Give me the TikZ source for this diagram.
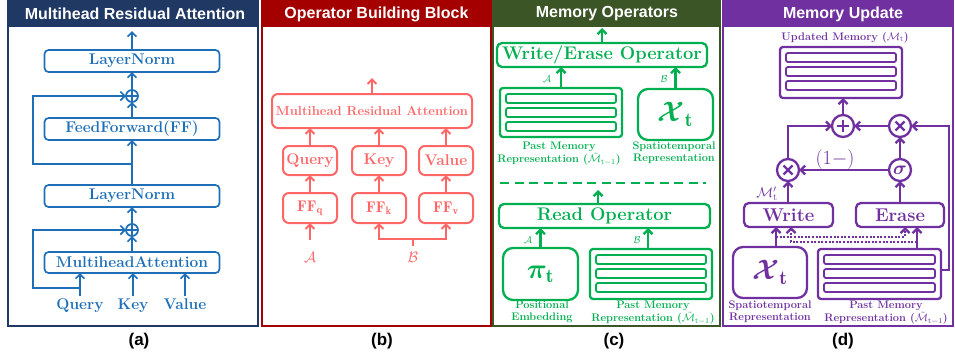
\RequirePackage{fix-cm}
\documentclass[tikz,border=0pt]{standalone}
\usepackage{amsmath,bm}
\usepackage{fontspec}
\newfontfamily\arialfont{Liberation Sans}
\usetikzlibrary{arrows.meta,calc}
\definecolor{navy}{HTML}{1F3864}
\definecolor{cA}{HTML}{1E6FB8}
\definecolor{dred}{HTML}{A50000}
\definecolor{cB}{HTML}{FF6666}
\definecolor{dgreen}{HTML}{3B5526}
\definecolor{cC}{HTML}{00B050}
\definecolor{cD}{HTML}{7030A0}
\newcommand\mybars[2]{\foreach \yy in {6,20,34}{\draw[draw=#2, line width=1.8pt, rounded corners=2pt] ($(#1.north west)+(6,\yy)$) rectangle ($(#1.north east)+(-6,\yy+9)$);}}
\tikzset{
 every node/.style={inner sep=0pt, outer sep=0pt},
 ttl/.style={text=white, font=\arialfont\bfseries\fontsize{16}{16}\selectfont},
 captxt/.style={text=black, font=\arialfont\bfseries\fontsize{17}{17}\selectfont},
 tipA/.style={-{Straight Barb[length=4.5pt,width=9pt]}},
 aln/.style={draw=cA, line width=1.7pt},
 abox/.style={aln, rounded corners=4pt, text=cA, font=\bfseries\fontsize{15.5}{15.5}\selectfont, minimum width=175pt, minimum height=22pt},
 alab/.style={text=cA, font=\bfseries\fontsize{15.5}{15.5}\selectfont},
 aarr/.style={cA, line width=1.7pt, tipA},
 aplus/.style={aln, circle, minimum size=12pt, path picture={\draw[cA, line width=1.3pt] (path picture bounding box.north) -- (path picture bounding box.south) (path picture bounding box.west) -- (path picture bounding box.east);}},
 bbox/.style={draw=cB, line width=2pt, rounded corners=6pt, text=cB, font=\bfseries\fontsize{15.5}{15.5}\selectfont, minimum width=54pt, minimum height=29pt},
 barr/.style={cB, line width=2pt, tipA},
 blab/.style={text=cB, font=\fontsize{15}{15}\selectfont},
 cbox/.style={draw=cC, line width=2.3pt, rounded corners=5pt, text=cC, font=\bfseries\fontsize{18.3}{18.3}\selectfont},
 carr/.style={cC, line width=2.3pt, tipA},
 clab/.style={text=cC, font=\bfseries\fontsize{11}{12}\selectfont, align=center},
 csm/.style={text=cC, font=\fontsize{10}{10}\selectfont},
 dbox/.style={draw=cD, line width=2.3pt, rounded corners=5pt, text=cD, font=\bfseries\fontsize{18.5}{18.5}\selectfont},
 darr/.style={cD, line width=2.3pt, tipA},
 dlab/.style={text=cD, font=\bfseries\fontsize{11}{12}\selectfont, align=center},
 dcirc/.style={draw=cD, line width=2.3pt, circle, minimum size=22pt},
 dplus/.style={dcirc, path picture={\draw[cD, line width=2.3pt] ($(path picture bounding box.center)+(-6pt,0pt)$) -- ($(path picture bounding box.center)+(6pt,0pt)$) ($(path picture bounding box.center)+(0pt,-6pt)$) -- ($(path picture bounding box.center)+(0pt,6pt)$);}},
 dtimes/.style={dcirc, path picture={\draw[cD, line width=2.3pt] ($(path picture bounding box.center)+(-4.5pt,-4.5pt)$) -- ($(path picture bounding box.center)+(4.5pt,4.5pt)$) ($(path picture bounding box.center)+(-4.5pt,4.5pt)$) -- ($(path picture bounding box.center)+(4.5pt,-4.5pt)$);}},
 dotline/.style={dash pattern=on 2pt off 1.6pt},
}
\begin{document}
\begin{tikzpicture}[x=1pt,y=-1pt]
\useasboundingbox (0,0) rectangle (955,360);
\fill[white] (0,0) rectangle (955,360);
% ---------- panel frames ----------
\draw[navy, line width=2pt] (8,1) rectangle (258,326);
\fill[navy] (7,0) rectangle (259,27);
\node[ttl] (ta) at (135,14) {Multihead Residual Attention};
\draw[dred, line width=2pt] (262,1) rectangle (491,326);
\fill[dred] (261,0) rectangle (492,27);
\node[ttl] (tb) at (376.5,14) {Operator Building Block};
\draw[dgreen, line width=2pt] (493,1) rectangle (720,326);
\fill[dgreen] (492,0) rectangle (721,27);
\node[ttl] (tc) at (607,14) {Memory Operators};
\draw[cD, line width=2pt] (723,1) rectangle (953,326);
\fill[cD] (722,0) rectangle (954,27);
\node[ttl] (td) at (843,14) {Memory Update};
\node[captxt] (capa) at (139,341) {(a)};
\node[captxt] (capb) at (382,341) {(b)};
\node[captxt] (capc) at (614,341) {(c)};
\node[captxt] (capd) at (843,341) {(d)};
% ---------- panel (a) ----------
\node[abox] (ln1) at (132,61) {LayerNorm};
\coordinate (aout) at (132,31);
\draw[aarr] (ln1.north) -- (aout);
\node[aplus] (p1) at (132,96) {};
\draw[aarr] (p1.north) -- (ln1.south);
\node[abox] (ff) at (132,129) {FeedForward(FF)};
\draw[aarr] (ff.north) -- (p1.south);
\node[abox] (ln2) at (132,196) {LayerNorm};
\draw[aarr] (ln2.north) -- (ff.south);
\coordinate (r1) at (132,164);
\draw[aarr] (r1) -- (33,164) |- (p1.west);
\node[aplus] (p2) at (132,230) {};
\draw[aarr] (p2.north) -- (ln2.south);
\node[abox, minimum height=21pt] (mha) at (132,262.5) {MultiheadAttention};
\draw[aarr] (mha.north) -- (p2.south);
\node[alab, anchor=base] (q) at (80,309) {Query};
\node[alab, anchor=base] (k) at (133,309) {Key};
\node[alab, anchor=base] (v) at (185,309) {Value};
\draw[aarr] ([yshift=2pt]q.north) -- (q.north |- mha.south);
\draw[aarr] ([yshift=2pt]k.north) -- (k.north |- mha.south);
\draw[aarr] ([yshift=2pt]v.north) -- (v.north |- mha.south);
\draw[aarr] (q.north |- 0,288) -- (33,288) |- (p2.west);
% ---------- panel (b) ----------
\node[bbox, minimum width=200pt, minimum height=34pt, font=\bfseries\fontsize{13}{13}\selectfont] (mra) at (372,111) {Multihead Residual Attention};
\coordinate (bout) at (372,78);
\draw[barr] (mra.north) -- (bout);
\node[bbox] (bq) at (310,160.5) {Query};
\node[bbox] (bk) at (379,160.5) {Key};
\node[bbox] (bv) at (446,160.5) {Value};
\draw[barr] (bq.north) -- (bq.north |- mra.south);
\draw[barr] (bk.north) -- (bk.north |- mra.south);
\draw[barr] (bv.north) -- (bv.north |- mra.south);
\node[bbox, minimum height=30pt] (fq) at (310,208) {$\mathbf{FF_q}$};
\node[bbox, minimum height=30pt] (fk) at (379,208) {$\mathbf{FF_k}$};
\node[bbox, minimum height=30pt] (fv) at (446,208) {$\mathbf{FF_v}$};
\draw[barr] (fq.north) -- (bq.south);
\draw[barr] (fk.north) -- (bk.south);
\draw[barr] (fv.north) -- (bv.south);
\coordinate (ain) at (310,240);
\draw[barr] (ain) -- (fq.south);
\node[blab] (la) at (310,257) {$\mathcal{A}$};
\coordinate (bj) at (413,239);
\draw[barr] (bj) -| (fk.south);
\draw[barr] (bj) -| (fv.south);
\draw[cB, line width=2pt] (bj) -- (413,246);
\node[blab] (lb) at (413,257) {$\mathcal{B}$};
% ---------- panel (c) ----------
\node[cbox, minimum width=210pt, minimum height=24pt] (weo) at (602,55) {Write/Erase Operator};
\coordinate (cout) at (602,28);
\draw[carr] (weo.north) -- (cout);
\node[cbox, minimum width=122pt, minimum height=49pt, rounded corners=3pt] (cm1) at (561,112.5) {};
\mybars{cm1}{cC}
\node[cbox, minimum width=75pt, minimum height=51pt, rounded corners=10pt, font=\fontsize{28}{28}\selectfont] (cx) at (675.5,114.5) {$\boldsymbol{\mathcal{X}}_{\mathbf{t}}$};
\draw[carr] (cm1.north) -- (cm1.north |- weo.south);
\draw[carr] (cx.north) -- (cx.north |- weo.south);
\node[csm] (cla) at (547,79) {$\mathcal{A}$};
\node[csm] (clb) at (664,79) {$\mathcal{B}$};
\node[clab, anchor=north] (cl1) at (559,142) {Past Memory\\Representation ($\tilde{\mathcal{M}}_{\mathrm{t-1}}$)};
\node[clab, anchor=north] (cl2) at (674,142) {Spatiotemporal\\Representation};
\draw[cC, line width=2.3pt, dash pattern=on 9pt off 5.5pt] (500,183) -- (706,183);
\node[cbox, minimum width=211pt, minimum height=24pt] (ro) at (604.5,216) {Read Operator};
\coordinate (rout) at (598,190);
\draw[carr] (rout |- ro.north) -- (rout);
\node[cbox, minimum width=75pt, minimum height=52pt, rounded corners=10pt, font=\fontsize{28}{28}\selectfont] (pi) at (540.5,274) {$\boldsymbol{\pi}_{\mathbf{t}}$};
\node[cbox, minimum width=122pt, minimum height=50pt, rounded corners=3pt] (cm2) at (651,274) {};
\mybars{cm2}{cC}
\draw[carr] (pi.north) -- (pi.north |- ro.south);
\draw[carr] (648,0 |- cm2.north) -- (648,0 |- ro.south);
\node[csm] (cla2) at (528,240) {$\mathcal{A}$};
\node[csm] (clb2) at (637,240) {$\mathcal{B}$};
\node[clab, anchor=north] (cl3) at (542,301) {Positional\\Embedding};
\node[clab, anchor=north] (cl4) at (653,301) {Past Memory\\Representation ($\tilde{\mathcal{M}}_{\mathrm{t-1}}$)};
% ---------- panel (d) ----------
\node[dlab, anchor=north] (um) at (845,32) {Updated Memory ($\mathcal{M}_{\mathrm{t}}$)};
\node[dbox, minimum width=122pt, minimum height=51pt, rounded corners=3pt] (m3) at (841,72.5) {};
\mybars{m3}{cD}
\node[dplus] (pl) at (843,126) {};
\node[dtimes] (t1) at (900,126) {};
\node[dtimes] (t2) at (788,170) {};
\node[dcirc, text=cD, font=\fontsize{19}{19}\selectfont] (sg) at (900,170) {$\boldsymbol{\sigma}$};
\draw[darr] (pl.north) -- (pl.north |- m3.south);
\draw[darr] (t1.west) -- (pl.east);
\draw[darr] (t2.north) |- (pl.west);
\draw[darr] (sg.north) -- (t1.south);
\draw[darr] (sg.west) -- (t2.east);
\node[text=cD, font=\fontsize{20}{20}\selectfont] (om) at (835,159) {$(1-)$};
\node[dbox, minimum width=89pt, minimum height=24pt] (wr) at (788.5,215) {Write};
\node[dbox, minimum width=88pt, minimum height=24pt] (er) at (900,215) {Erase};
\draw[darr] (wr.north -| t2) -- (t2.south);
\draw[darr] (er.north -| sg) -- (sg.south);
\node[text=cD, font=\fontsize{14}{14}\selectfont] (mp) at (767,194) {$\mathcal{M}'_{\mathrm{t}}$};
\node[dbox, minimum width=74pt, minimum height=51pt, rounded corners=10pt, font=\fontsize{28}{28}\selectfont] (x2) at (770,272.5) {$\boldsymbol{\mathcal{X}}_{\mathbf{t}}$};
\node[dbox, minimum width=123pt, minimum height=50pt, rounded corners=3pt] (m4) at (879.5,274) {};
\mybars{m4}{cD}
\draw[darr] (776,0 |- x2.north) -- (776,0 |- wr.south);
\draw[darr] (917,0 |- m4.north) -- (917,0 |- er.south);
\draw[darr, dotline] (776,237) -| (905,0 |- er.south);
\draw[darr, dotline] (917,242) -| (791,0 |- wr.south);
\draw[darr] (m4.east |- 0,270) -- (949,270) |- (t1.east);
\node[dlab, anchor=north] (dl1) at (770,301) {Spatiotemporal\\Representation};
\node[dlab, anchor=north] (dl2) at (886,301) {Past Memory\\Representation ($\tilde{\mathcal{M}}_{\mathrm{t-1}}$)};
\end{tikzpicture}
\end{document}
